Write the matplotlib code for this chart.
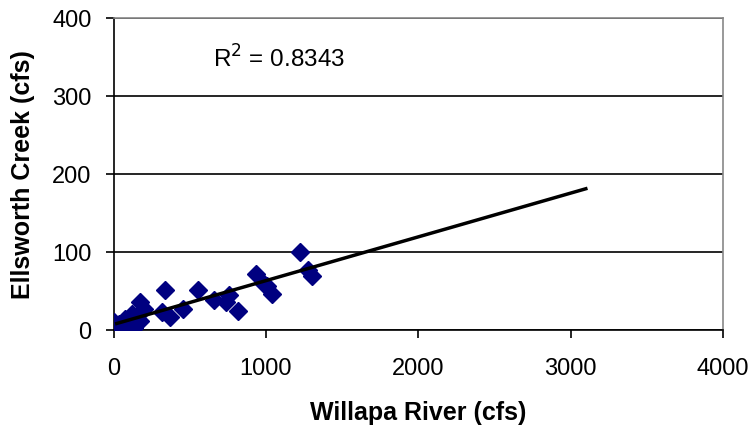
import matplotlib
matplotlib.use('Agg')
import matplotlib.pyplot as plt
import numpy as np

plt.rcParams['font.family'] = ['Liberation Sans', 'DejaVu Sans']

# Willapa River vs Ellsworth Creek flows (cfs)
willapa = [0, 11, 33, 44, 77, 110, 121, 131, 153, 175, 175, 197,
           318, 335, 372, 453, 554, 660, 740, 760, 816,
           933, 985, 1006, 1039, 1220, 1273, 1302]
ellsworth = [10, 1, 8, 0, 14, 5, 21, 3, 12, 11, 36, 27,
             23, 51, 17, 27, 51, 38, 36, 45, 25,
             72, 59, 57, 46, 100, 77, 69]

# linear trendline
trend_x = [20, 3100]
slope = 0.0561
intercept = 7.3
r2_text = 'R$^2$ = 0.8343'

fig = plt.figure(figsize=(7.53, 4.32), dpi=100)
ax = fig.add_axes([0.151, 0.236, 0.809, 0.722])

ax.grid(axis='y', color='black', linewidth=1.2)
ax.set_axisbelow(True)

ax.plot(willapa, ellsworth, linestyle='none', marker='D', markersize=9,
        color='#000080', zorder=3)
tx = np.array(trend_x)
ax.plot(tx, slope * tx + intercept, color='black', linewidth=2.5, zorder=4)

ax.text(654, 347, r2_text, fontsize=17.5, va='center', ha='left')

ax.set_xlim(0, 4000)
ax.set_ylim(0, 400)
ax.set_xticks([0, 1000, 2000, 3000, 4000])
ax.set_yticks([0, 100, 200, 300, 400])
ax.tick_params(labelsize=17, length=6, width=1.2, direction='out')
ax.tick_params(axis='x', pad=14)
ax.tick_params(axis='y', pad=10)

for s in ['left', 'bottom']:
    ax.spines[s].set_color('black')
    ax.spines[s].set_linewidth(1.2)
for s in ['right', 'top']:
    ax.spines[s].set_color('#888888')
    ax.spines[s].set_linewidth(1.2)

ax.set_xlabel('Willapa River (cfs)', fontsize=18, fontweight='bold', labelpad=15)
ax.set_ylabel('Ellsworth Creek (cfs)', fontsize=18, fontweight='bold', labelpad=12)

fig.savefig('out.png', dpi=100)
